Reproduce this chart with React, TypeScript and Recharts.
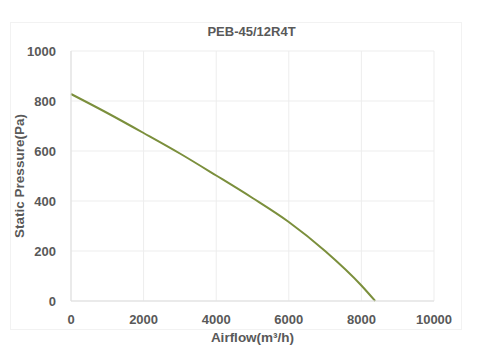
import { LineChart, Line, XAxis, YAxis, CartesianGrid, Label } from "recharts";

// Fan curve
const airflow = [0, 1000, 2000, 3000, 4000, 5000, 6000, 7000, 8000, 8380];
const pressure = [828, 752, 672, 590, 502, 412, 316, 200, 62, 0];

const xTicks = [0, 2000, 4000, 6000, 8000, 10000];
const yTicks = [0, 200, 400, 600, 800, 1000];

const textColor = "#595959";
const font = '"Liberation Sans", Arial, sans-serif';

export default function App() {
  const data = airflow.map((a, i) => ({ airflow: a, pressure: pressure[i] }));

  return (
    <div style={{ position: "absolute", left: 0, top: 0, width: 480, height: 364, background: "#fff", fontFamily: font }}>
      {/* faint chart-area border */}
      <div
        style={{
          position: "absolute",
          left: 10,
          top: 22,
          width: 452,
          height: 308,
          border: "1px solid #f2f2f2",
          boxSizing: "border-box",
        }}
      />
      <div
        style={{
          position: "absolute",
          left: 0,
          width: 503,
          top: 24,
          textAlign: "center",
          fontSize: 13,
          fontWeight: 700,
          color: textColor,
        }}
      >
        PEB-45/12R4T
      </div>
      <LineChart
        width={480}
        height={364}
        data={data}
        margin={{ top: 51, right: 46, bottom: 33, left: 0 }}
        style={{ position: "absolute", left: 0, top: 0 }}
      >
        <CartesianGrid stroke="#ededed" strokeWidth={1} />
        <XAxis
          dataKey="airflow"
          type="number"
          domain={[0, 10000]}
          ticks={xTicks}
          interval={0}
          height={30}
          axisLine={{ stroke: "#dedede" }}
          tickLine={false}
          tickMargin={8}
          tick={{ fill: textColor, fontSize: 13, fontWeight: 700, fontFamily: font }}
        >
          <Label
            value="Airflow(m³/h)"
            position="bottom"
            offset={1}
            style={{ fill: textColor, fontSize: 13.5, fontWeight: 700, fontFamily: font }}
          />
        </XAxis>
        <YAxis
          type="number"
          domain={[0, 1000]}
          ticks={yTicks}
          interval={0}
          width={71}
          axisLine={{ stroke: "#dedede" }}
          tickLine={false}
          tickMargin={9}
          tick={{ fill: textColor, fontSize: 13, fontWeight: 700, fontFamily: font }}
        >
          <Label
            value="Static Pressure(Pa)"
            angle={-90}
            position="insideLeft"
            offset={19}
            style={{ textAnchor: "middle", fill: textColor, fontSize: 13.5, fontWeight: 700, fontFamily: font }}
          />
        </YAxis>
        <Line
          type="monotone"
          dataKey="pressure"
          stroke="#7b8f3c"
          strokeWidth={2}
          dot={false}
          isAnimationActive={false}
        />
      </LineChart>
    </div>
  );
}
